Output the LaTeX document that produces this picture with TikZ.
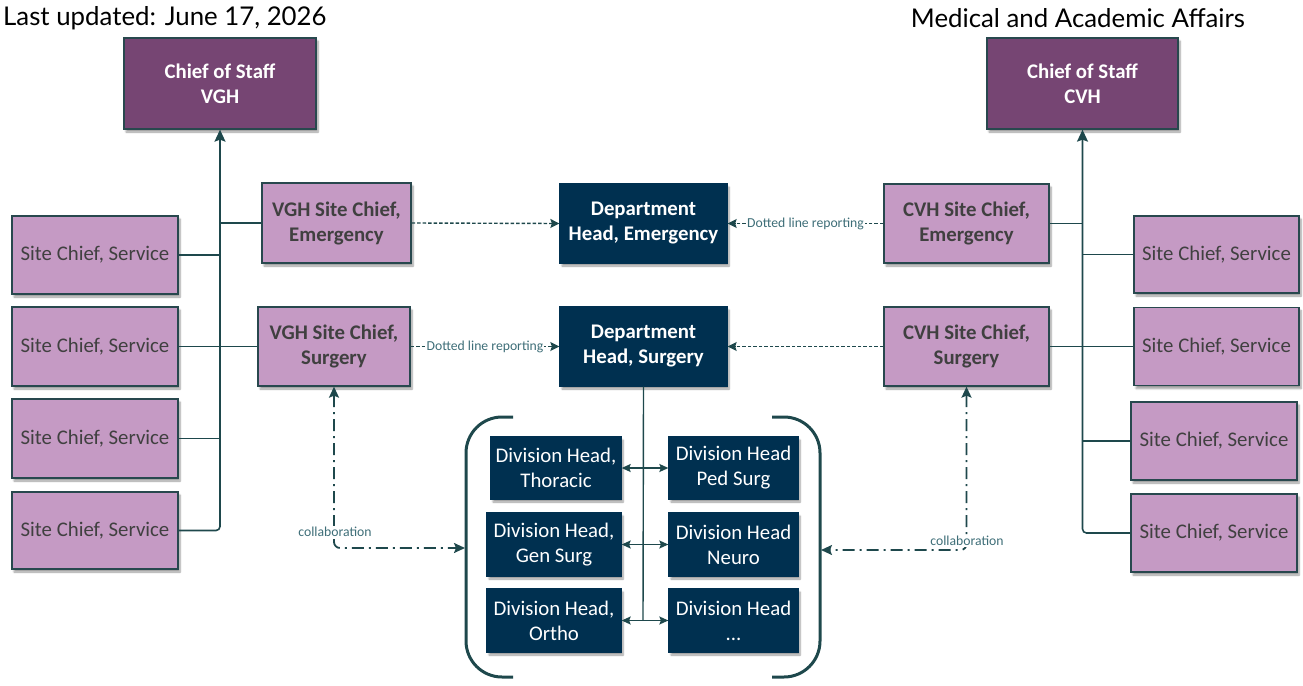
\documentclass[tikz,border=0pt]{standalone}
\usepackage{fontspec}
\setmainfont{Carlito}
\newfontfamily\titlefont{Lato}
\usetikzlibrary{arrows.meta,shadows.blur}
\definecolor{chiefc}{RGB}{118,69,115}
\definecolor{lilac}{RGB}{197,154,196}
\definecolor{navy}{RGB}{0,48,80}
\definecolor{edgec}{RGB}{40,72,78}
\definecolor{linec}{RGB}{30,72,76}
\definecolor{graytext}{RGB}{64,64,64}
\definecolor{lblc}{RGB}{62,110,120}
\begin{document}
\begin{tikzpicture}[x=1pt,y=-1pt,
  box/.style={draw=edgec, line width=1.3pt, inner sep=0pt, align=center,
    font=\fontsize{20.8}{25}\selectfont,
    blur shadow={shadow xshift=2pt,shadow yshift=-3pt,shadow blur steps=6,shadow opacity=40}},
  chiefbox/.style={box, fill=chiefc, text=white, font=\fontsize{20.8}{25}\selectfont\bfseries,
    minimum width=192pt, minimum height=91pt},
  sitebox/.style={box, fill=lilac, text=graytext, minimum width=165pt, minimum height=78pt},
  siteboldbox/.style={sitebox, font=\fontsize{20.8}{25}\selectfont\bfseries},
  deptbox/.style={box, draw=navy, fill=navy, text=white, font=\fontsize{20.8}{25}\selectfont\bfseries,
    minimum width=167pt, minimum height=79pt},
  divbox/.style={box, draw=navy, fill=navy, text=white, minimum width=132pt, minimum height=62pt},
  conn/.style={draw=linec, line width=1.6pt},
  bigarr/.style={conn, -{Stealth[length=12pt,width=11pt,inset=2pt]}},
  divarr/.style={draw=linec, line width=1.4pt, {Stealth[length=9pt,width=8pt,inset=1.5pt]}-{Stealth[length=9pt,width=8pt,inset=1.5pt]}},
  dotarr/.style={draw=linec, line width=1.4pt, dash pattern=on 3.5pt off 2pt, -{Stealth[length=9pt,width=9pt,inset=1.5pt]}},
  collab/.style={draw=linec, line width=1.8pt, dash pattern=on 12pt off 5pt on 2pt off 5pt, rounded corners=6pt,
    {Stealth[length=11pt,width=10pt,inset=2pt]}-{Stealth[length=11pt,width=10pt,inset=2pt]}},
  lbl/.style={fill=white, inner sep=1pt, text=lblc, font=\fontsize{13.7}{14}\selectfont},
  bracket/.style={draw=linec, line width=3pt, rounded corners=36pt},
  ttl/.style={font=\titlefont\fontsize{25.8}{26}\selectfont, inner sep=0pt}
]
\useasboundingbox (0,0) rectangle (1303,685);

% titles
\node[ttl, anchor=west] (upd) at (3,18) {Last updated: June 17, 2026};
\node[ttl] (maa) at (1078,18) {Medical and Academic Affairs};

% chiefs of staff
\node[chiefbox] (cosV) at (220,83.5) {Chief of Staff\\VGH};
\node[chiefbox, minimum width=191pt] (cosC) at (1082.5,83.5) {Chief of Staff\\CVH};

% left site chiefs
\node[sitebox, minimum width=166pt] (sL1) at (95,255) {Site Chief, Service};
\node[sitebox, minimum width=166pt, minimum height=79pt] (sL2) at (95,346.5) {Site Chief, Service};
\node[sitebox, minimum width=166pt, minimum height=79pt] (sL3) at (95,438.5) {Site Chief, Service};
\node[sitebox, minimum width=166pt, minimum height=77pt] (sL4) at (95,530.5) {Site Chief, Service};

% right site chiefs
\node[sitebox, minimum height=77pt] (sR1) at (1216.5,254.5) {Site Chief, Service};
\node[sitebox] (sR2) at (1216.5,346.5) {Site Chief, Service};
\node[sitebox, minimum width=166pt] (sR3) at (1214,441) {Site Chief, Service};
\node[sitebox, minimum width=166pt] (sR4) at (1214,533) {Site Chief, Service};

% site chiefs emergency / surgery
\node[siteboldbox, minimum width=149pt, minimum height=80pt] (vghE) at (336.5,223) {VGH Site Chief,\\Emergency};
\node[siteboldbox, minimum width=152pt, minimum height=79pt] (vghS) at (334,346.5) {VGH Site Chief,\\Surgery};
\node[siteboldbox, minimum height=79pt] (cvhE) at (966.5,223.5) {CVH Site Chief,\\Emergency};
\node[siteboldbox, minimum height=79pt] (cvhS) at (966.5,346.5) {CVH Site Chief,\\Surgery};

% department heads
\node[deptbox] (dE) at (643.5,223.5) {Department\\Head, Emergency};
\node[deptbox] (dS) at (643.5,346.5) {Department\\Head, Surgery};

% division heads
\node[divbox, minimum width=130pt] (thor) at (556,468) {Division Head,\\Thoracic};
\node[divbox, minimum width=129pt] (ped) at (733.5,468) {Division Head\\Ped Surg};
\node[divbox, minimum width=134pt, minimum height=63pt] (gen) at (554,544.5) {Division Head,\\Gen Surg};
\node[divbox, minimum width=129pt, minimum height=63pt] (neuro) at (733.5,544.5) {Division Head\\Neuro};
\node[divbox, minimum width=134pt, minimum height=63pt] (ortho) at (554,620.5) {Division Head,\\Ortho};
\node[divbox, minimum width=129pt, minimum height=63pt] (etc) at (733.5,620.5) {Division Head\\...};

% left reporting tree
\draw[bigarr, rounded corners=4pt] (sL4.east) -| (cosV.south);
\draw[conn] (sL1.east) -- (sL1.east -| cosV.south);
\draw[conn] (sL3.east) -- (sL3.east -| cosV.south);
\draw[conn] (sL2.east) -- (vghS.west);
\draw[conn] (vghE.west) -- (vghE.west -| cosV.south);

% right reporting tree
\draw[bigarr, rounded corners=4pt] (sR4.west) -| (cosC.south);
\draw[conn] (sR1.west) -- (sR1.west -| cosC.south);
\draw[conn] (sR3.west) -- (sR3.west -| cosC.south);
\draw[conn] (sR2.west) -- (cvhS.east);
\draw[conn] (cvhE.east) -- (cvhE.east -| cosC.south);

% dotted line reporting
\draw[dotarr] (vghE.east) -- (dE.west);
\draw[dotarr] (cvhE.west) -- node[lbl] (lblE) {Dotted line reporting} (dE.east);
\draw[dotarr] (vghS.east) -- node[lbl] (lblS) {Dotted line reporting} (dS.west);
\draw[dotarr] (cvhS.west) -- (dS.east);

% division tree
\coordinate (j1) at (643,468);
\coordinate (j2) at (643,544.5);
\coordinate (j3) at (643,620.5);
\draw[draw=linec, line width=1.4pt] (dS.south) -- (j3);
\draw[divarr] (thor.east) -- (j1) -- (ped.west);
\draw[divarr] (gen.east) -- (j2) -- (neuro.west);
\draw[divarr] (ortho.east) -- (j3) -- (etc.west);

% brackets
\draw[bracket] (513,417) -- (466,417) -- (466,677) -- (513,677);
\draw[bracket] (772,417) -- (820,417) -- (820,677) -- (772,677);
\coordinate (bl) at (465,548);
\coordinate (br) at (821,550);

% collaboration
\draw[collab] (vghS.south) |- (bl);
\node[lbl] (clL) at (335,532) {collaboration};
\draw[collab] (cvhS.south) |- (br);
\node[lbl] (clR) at (967,541) {collaboration};
\end{tikzpicture}
\end{document}
